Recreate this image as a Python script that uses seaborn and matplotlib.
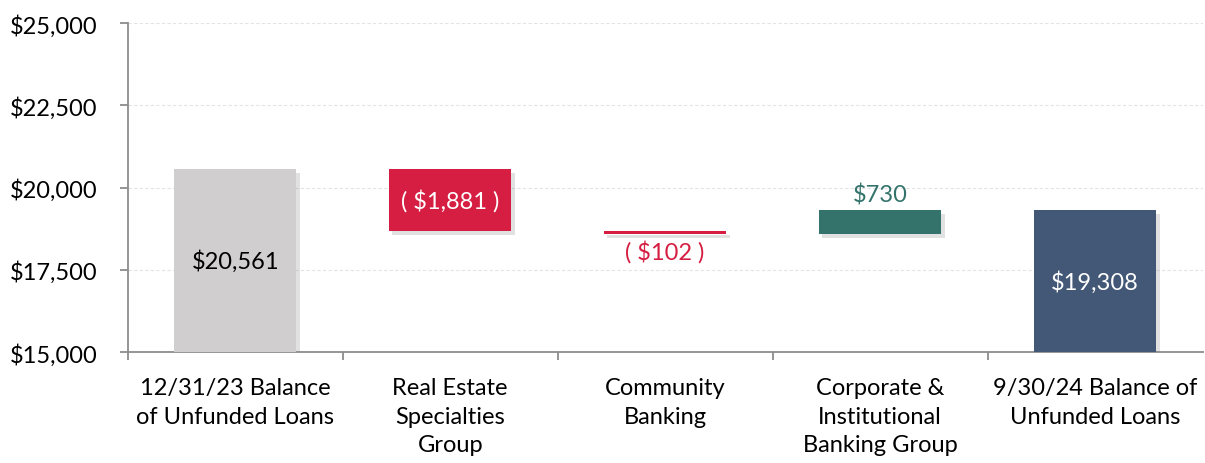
import matplotlib
matplotlib.use("Agg")
import matplotlib.pyplot as plt
import matplotlib.patheffects as pe
from matplotlib.ticker import FuncFormatter, FixedLocator
import seaborn as sns
import pandas as pd

categories = ["12/31/23 Balance\nof Unfunded Loans",
              "Real Estate\nSpecialties\nGroup",
              "Community\nBanking",
              "Corporate &\nInstitutional\nBanking Group",
              "9/30/24 Balance of\nUnfunded Loans"]
changes = [20561, -1881, -102, 730, 19308]
kinds = ["total", "delta", "delta", "delta", "total"]
labels = ["$20,561", "( $1,881 )", "( $102 )", "$730", "$19,308"]
colors = ["#D0CECF", "#D51E42", "#D51E42", "#33736B", "#435876"]
label_colors = ["#000000", "#FFFFFF", "#D51E42", "#33736B", "#FFFFFF"]
label_pos = ["inside", "inside", "below", "above", "inside"]
y_min, y_max = 15000, 25000
y_ticks = [15000, 17500, 20000, 22500, 25000]

# compute bottoms/heights of the floating bars
bottoms, heights = [], []
running = 0
for k, v in zip(kinds, changes):
    if k == "total":
        bottoms.append(y_min)
        heights.append(v - y_min)
        running = v
    else:
        lo = min(running, running + v)
        bottoms.append(lo)
        heights.append(abs(v))
        running += v

df = pd.DataFrame({"cat": categories, "h": heights, "b": bottoms})

sns.set_theme(style="white")
plt.rcParams["font.family"] = ["Lato", "DejaVu Sans"]

fig = plt.figure(figsize=(12.05, 4.64), dpi=100)
ax = fig.add_axes([0.106, 0.239, 0.892, 0.709])

for i, row in df.iterrows():
    sns.barplot(x=[row["cat"]], y=[row["h"]], bottom=row["b"], color=colors[i],
                order=categories, ax=ax, width=0.57, saturation=1, linewidth=0,
                zorder=3)

for p in ax.patches:
    p.set_path_effects([pe.SimplePatchShadow(offset=(2.5, -2.5), shadow_rgbFace="#888888", alpha=0.25),
                        pe.Normal()])

for i in range(len(categories)):
    b, h = bottoms[i], heights[i]
    if label_pos[i] == "inside":
        y, va = b + h / 2, "center"
    elif label_pos[i] == "below":
        y, va = b - 150, "top"
    else:
        y, va = b + h + 150, "bottom"
    ax.text(i, y, labels[i], ha="center", va=va, color=label_colors[i],
            fontsize=17, zorder=5)

ax.set_xlim(-0.5, len(categories) - 0.5)
ax.set_ylim(y_min, y_max)
ax.set_yticks(y_ticks)
ax.yaxis.set_major_formatter(FuncFormatter(lambda v, p: f"${v:,.0f}"))
ax.set_xlabel("")
ax.set_ylabel("")

ax.yaxis.grid(True, color="#E3E3E3", linestyle=(0, (3, 2)), linewidth=0.8, zorder=0)
ax.xaxis.grid(False)
ax.set_axisbelow(True)

for s in ["top", "right"]:
    ax.spines[s].set_visible(False)
for s in ["left", "bottom"]:
    ax.spines[s].set_color("#8C8C8C")
    ax.spines[s].set_linewidth(1.3)

ax.tick_params(axis="y", which="major", left=True, length=6, width=1.3, color="#8C8C8C",
               pad=16, labelsize=17, labelcolor="#000000")
ax.tick_params(axis="x", which="major", length=0, pad=18, labelsize=17, labelcolor="#000000")
ax.xaxis.set_minor_locator(FixedLocator([-0.5 + k for k in range(len(categories))]))
ax.tick_params(axis="x", which="minor", bottom=True, length=6, width=1.3, color="#8C8C8C")
for t in ax.get_xticklabels():
    t.set_linespacing(1.45)
    t.set_va("top")

fig.savefig("out.png", dpi=100)
